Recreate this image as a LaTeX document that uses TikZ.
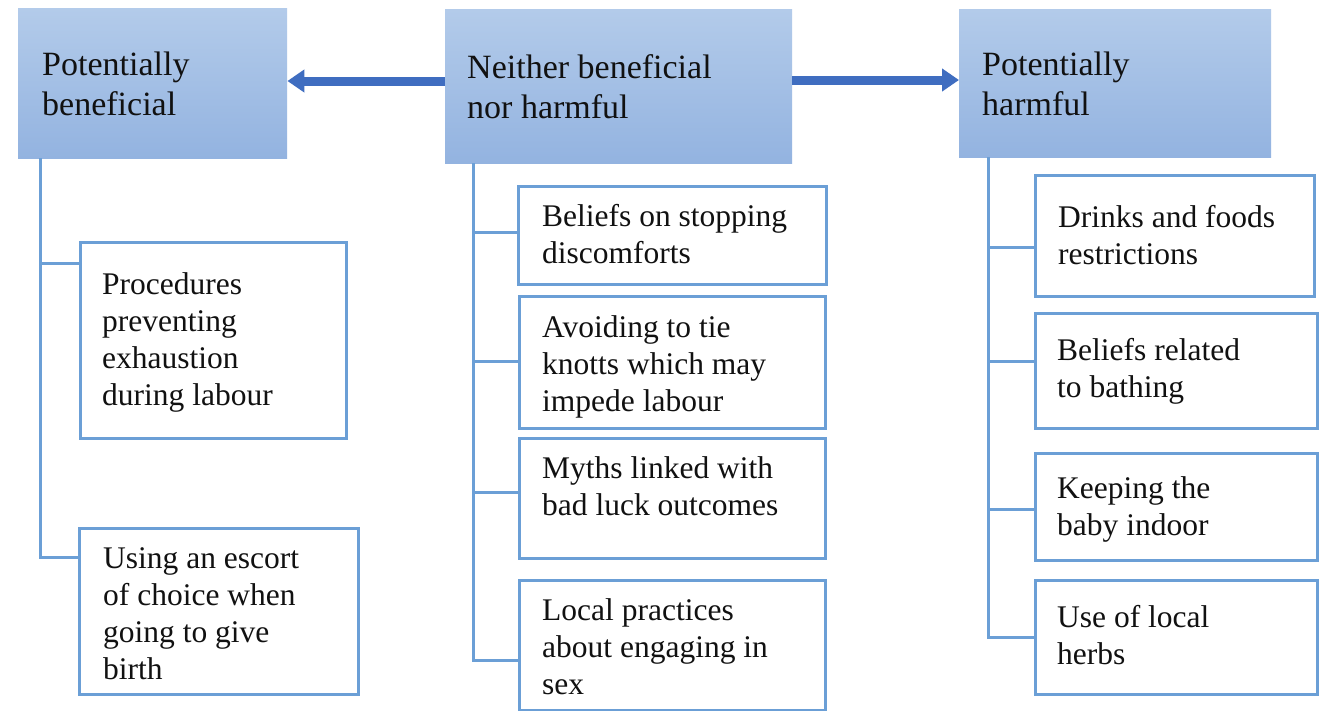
\documentclass[tikz,border=0pt]{standalone}
\usepackage{fontspec}
\setmainfont{Liberation Serif}
\usetikzlibrary{arrows.meta}
\definecolor{bline}{HTML}{6B9FD6}
\definecolor{htop}{HTML}{B3CBEA}
\definecolor{hbot}{HTML}{93B3E0}
\definecolor{arr}{HTML}{3F6DC0}
\definecolor{txtc}{HTML}{111111}
\begin{document}
\begin{tikzpicture}[x=1pt,y=-1pt,
  hdr/.style={anchor=north west, inner sep=0pt, top color=htop, bottom color=hbot, draw=none},
  subbox/.style={anchor=north west, inner sep=0pt, draw=bline, line width=3pt, fill=white},
  htxt/.style={anchor=north west, inner sep=0pt, align=left, text=txtc, font=\fontsize{34}{40}\selectfont},
  stxt/.style={anchor=north west, inner sep=0pt, align=left, text=txtc, font=\fontsize{31.5}{37}\selectfont},
  conn/.style={draw=bline, line width=3pt},
  bigarrow/.style={draw=arr, line width=9pt, -{Triangle[length=17pt,width=22pt]}}]
\useasboundingbox (0,0) rectangle (1322,710);
\fill[white] (0,0) rectangle (1322,710);

% headers
\node[hdr, minimum width=269pt, minimum height=150pt] (hL) at (18,8) {};
\node[hdr, minimum width=347pt, minimum height=154pt] (hM) at (445,9) {};
\node[hdr, minimum width=312pt, minimum height=148pt] (hR) at (959,9) {};
\node[htxt] (hLt) at (42,47) {\strut Potentially\\beneficial};
\node[htxt] (hMt) at (467,50) {\strut Neither beneficial\\nor harmful};
\node[htxt] (hRt) at (982,47) {\strut Potentially\\harmful};

% arrows
\coordinate (ayl) at (0,81);
\coordinate (ayr) at (0,80);
\draw[bigarrow] (hM.west |- ayl) -- (hL.east |- ayl);
\draw[bigarrow] (hM.east |- ayr) -- (hR.west |- ayr);

% left column
\node[subbox, minimum width=266pt, minimum height=196pt] (L1) at (79,241) {};
\node[subbox, minimum width=279pt, minimum height=166pt] (L2) at (78,527) {};
\node[stxt] (L1t) at (102,268) {\strut Procedures\\preventing\\exhaustion\\during labour};
\node[stxt] (L2t) at (103,542) {\strut Using an escort\\of choice when\\going to give\\birth};

% middle column
\node[subbox, minimum width=308pt, minimum height=98pt] (M1) at (517,185) {};
\node[subbox, minimum width=306pt, minimum height=132pt] (M2) at (518,295) {};
\node[subbox, minimum width=306pt, minimum height=120pt] (M3) at (518,437) {};
\node[subbox, minimum width=306pt, minimum height=130pt] (M4) at (518,579) {};
\node[stxt] (M1t) at (542,200) {\strut Beliefs on stopping\\discomforts};
\node[stxt] (M2t) at (542,311) {\strut Avoiding to tie\\knotts which may\\impede labour};
\node[stxt] (M3t) at (542,452) {\strut Myths linked with\\bad luck outcomes};
\node[stxt] (M4t) at (542,594) {\strut Local practices\\about engaging in\\sex};

% right column
\node[subbox, minimum width=279pt, minimum height=121pt] (R1) at (1034,174) {};
\node[subbox, minimum width=282pt, minimum height=115pt] (R2) at (1034,312) {};
\node[subbox, minimum width=282pt, minimum height=107pt] (R3) at (1034,452) {};
\node[subbox, minimum width=282pt, minimum height=114pt] (R4) at (1034,579) {};
\node[stxt] (R1t) at (1058,201) {\strut Drinks and foods\\restrictions};
\node[stxt] (R2t) at (1057,334) {\strut Beliefs related\\to bathing};
\node[stxt] (R3t) at (1057,472) {\strut Keeping the\\baby indoor};
\node[stxt] (R4t) at (1057,601) {\strut Use of local\\herbs};

% connectors left
\coordinate (Ltop) at (40,158);
\coordinate (Lb1) at (40,263);
\coordinate (Lb2) at (40,557);
\draw[conn] (Ltop) -- (Lb2) -- (Lb2 -| L2.west);
\draw[conn] (Lb1) -- (Lb1 -| L1.west);

% connectors middle
\coordinate (Mtop) at (473,163);
\coordinate (Mb1) at (473,232);
\coordinate (Mb2) at (473,361);
\coordinate (Mb3) at (473,492);
\coordinate (Mb4) at (473,660);
\draw[conn] (Mtop) -- (Mb4) -- (Mb4 -| M4.west);
\draw[conn] (Mb1) -- (Mb1 -| M1.west);
\draw[conn] (Mb2) -- (Mb2 -| M2.west);
\draw[conn] (Mb3) -- (Mb3 -| M3.west);

% connectors right
\coordinate (Rtop) at (988,157);
\coordinate (Rb1) at (988,247);
\coordinate (Rb2) at (988,361);
\coordinate (Rb3) at (988,509);
\coordinate (Rb4) at (988,637);
\draw[conn] (Rtop) -- (Rb4) -- (Rb4 -| R4.west);
\draw[conn] (Rb1) -- (Rb1 -| R1.west);
\draw[conn] (Rb2) -- (Rb2 -| R2.west);
\draw[conn] (Rb3) -- (Rb3 -| R3.west);
\end{tikzpicture}
\end{document}
